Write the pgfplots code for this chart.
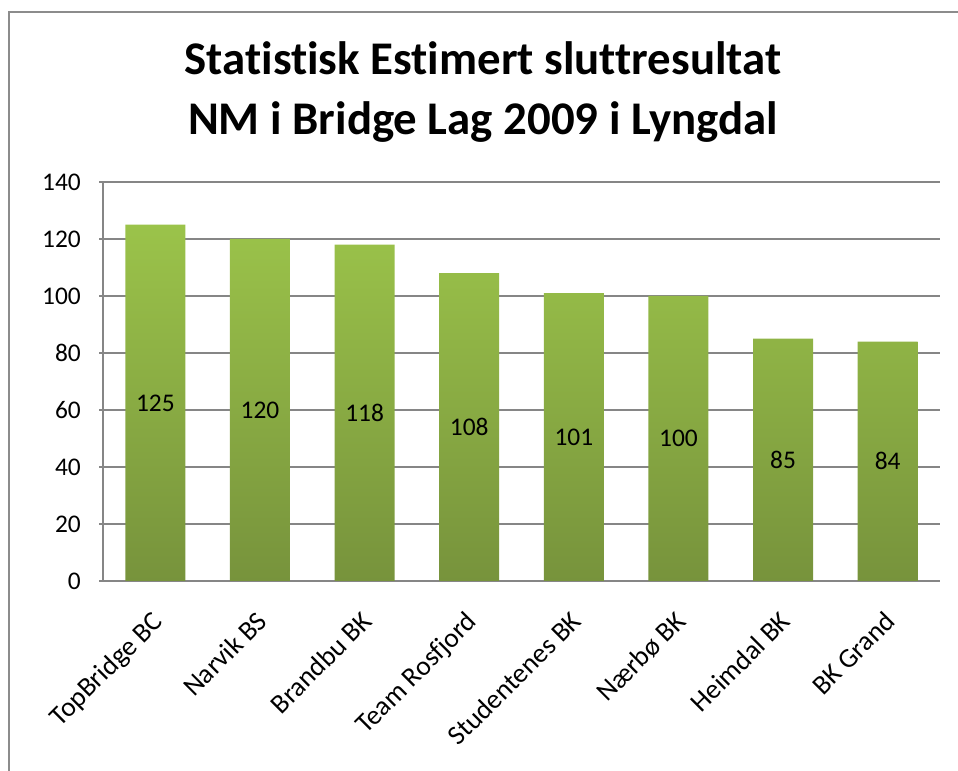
\documentclass[border=0pt]{standalone}
\usepackage{fontspec}
\setmainfont{Carlito}[Ligatures=NoCommon]
\usepackage{pgfplots}
\pgfplotsset{compat=1.18}
\definecolor{barTop}{HTML}{9BC34A}
\definecolor{barBot}{HTML}{77933C}
\definecolor{gridgray}{HTML}{868686}
\definecolor{framegray}{HTML}{8C8C8C}
\begin{document}
\begin{tikzpicture}[x=1bp,y=1bp]
\useasboundingbox (0,0) rectangle (958,771);
\draw[framegray, line width=2bp] (9,-10) -- (9,759) -- (970,759);
\node[font=\fontsize{47}{52}\selectfont\bfseries, anchor=base, inner sep=0pt] at (483,696) {Statistisk Estimert sluttresultat};
\node[font=\fontsize{47}{52}\selectfont\bfseries, anchor=base, inner sep=0pt] at (483,636) {NM i Bridge Lag 2009 i Lyngdal};
\begin{axis}[
  at={(103bp,190bp)}, anchor=south west,
  scale only axis, width=837bp, height=399bp,
  xmin=-0.5, xmax=7.5, ymin=0, ymax=140,
  ytick={0,20,...,140},
  xtick={0,...,7},
  xticklabels={TopBridge BC, Narvik BS, Brandbu BK, Team Rosfjord, Studentenes BK, Nærbø BK, Heimdal BK, BK Grand},
  axis x line*=bottom, axis y line*=left,
  axis line style={gridgray, line width=1.3bp},
  ymajorgrids, grid style={gridgray, line width=1.3bp},
  tick align=outside, major tick length=4bp,
  xtick style={draw=none},
  ytick style={gridgray, line width=1.3bp},
  /pgf/number format/assume math mode=true,
  tick label style={font=\fontsize{25.5}{30}\selectfont},
  yticklabel style={inner sep=0pt, anchor=east, xshift=-18bp},
  xticklabel style={font=\fontsize{27.5}{30}\selectfont, inner sep=0pt, anchor=base east, xshift=9bp, yshift=-38bp, rotate=45},
  clip=false,
]
\addplot[ybar, bar width=60bp, draw=none, top color=barTop, bottom color=barBot,
  nodes near coords,
  visualization depends on={y \as \rawy},
  every node near coord/.append style={font=\fontsize{25.5}{30}\selectfont, anchor=center, text=black, shift={(axis direction cs:0,-\rawy/2)}},
] coordinates {(0,125) (1,120) (2,118) (3,108) (4,101) (5,100) (6,85) (7,84)};
\end{axis}
\end{tikzpicture}
\end{document}
